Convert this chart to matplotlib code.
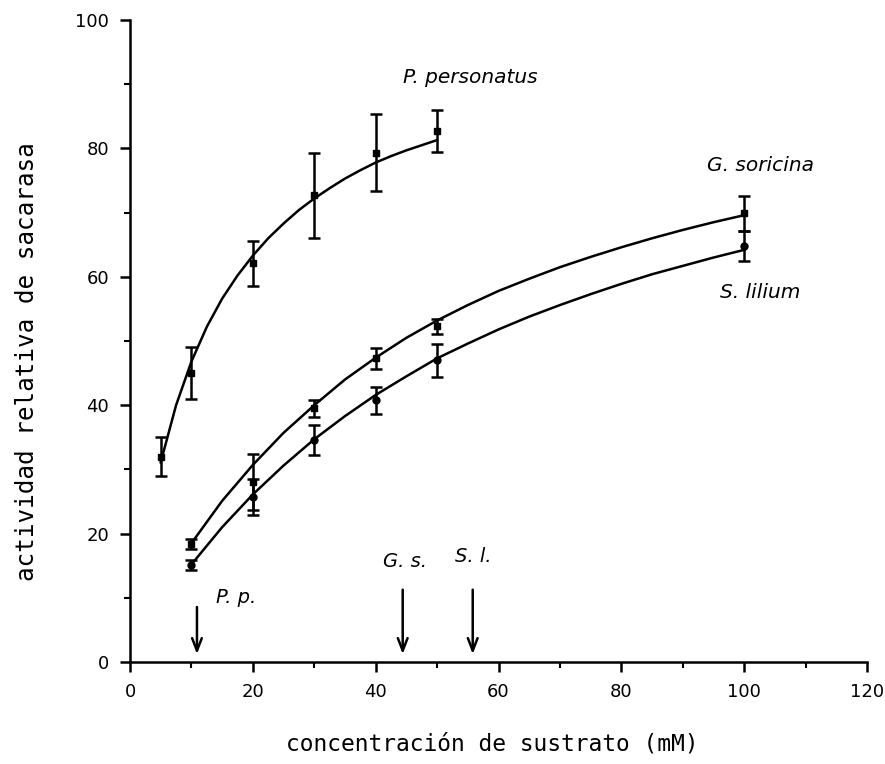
import matplotlib
matplotlib.use("Agg")
import matplotlib.pyplot as plt
from matplotlib.ticker import MultipleLocator

# puntos experimentales (media y error)
pp_x = [5, 10, 20, 30, 40, 50]
pp_y = [32.0, 45.0, 62.1, 72.7, 79.3, 82.7]
pp_err = [3.0, 4.0, 3.5, 6.6, 6.0, 3.3]

gs_x = [10, 20, 30, 40, 50, 100]
gs_y = [18.4, 28.0, 39.5, 47.3, 52.3, 69.9]
gs_err = [0.8, 4.4, 1.3, 1.6, 1.2, 2.7]

sl_x = [10, 20, 30, 40, 50, 100]
sl_y = [15.1, 25.7, 34.6, 40.8, 47.0, 64.8]
sl_err = [0.8, 2.8, 2.3, 2.1, 2.6, 2.4]

# curvas ajustadas
pp_cx = [5, 7.5, 10, 12.5, 15, 17.5, 20, 22.5, 25, 27.5, 30, 32.5, 35, 37.5,
         40, 42.5, 45, 47.5, 50]
pp_cy = [31.1, 40.0, 46.8, 52.2, 56.6, 60.2, 63.3, 66.0, 68.3, 70.4, 72.2,
         73.8, 75.3, 76.6, 77.8, 78.8, 79.7, 80.5, 81.3]

gs_cx = [10, 15, 20, 25, 30, 35, 40, 45, 50, 55, 60, 65, 70, 75, 80, 85, 90,
         95, 100]
gs_cy = [18.5, 25.1, 30.7, 35.7, 40.0, 44.0, 47.4, 50.5, 53.2, 55.6, 57.8,
         59.7, 61.5, 63.1, 64.6, 66.0, 67.3, 68.5, 69.6]

sl_cx = gs_cx
sl_cy = [15.2, 21.0, 26.1, 30.6, 34.7, 38.3, 41.6, 44.5, 47.3, 49.6, 51.8,
         53.8, 55.6, 57.3, 58.9, 60.4, 61.7, 63.0, 64.2]

# Km (flechas)
km_labels = ["P. p.", "G. s.", "S. l."]
km_x = [10.9, 44.4, 55.8]
km_top = [9.0, 11.7, 11.7]

fig = plt.figure(figsize=(8.85, 7.64), dpi=100)
ax = fig.add_axes([0.1469, 0.1335, 0.8328, 0.8403])

for cx, cy in [(pp_cx, pp_cy), (gs_cx, gs_cy), (sl_cx, sl_cy)]:
    ax.plot(cx, cy, color="black", lw=1.8)

for x, y, e, m in [(pp_x, pp_y, pp_err, "s"), (gs_x, gs_y, gs_err, "s"),
                   (sl_x, sl_y, sl_err, "o")]:
    ax.errorbar(x, y, yerr=e, fmt=m, color="black", ms=5, elinewidth=1.8,
                capsize=4, capthick=1.8)

for lab, x, top in zip(km_labels, km_x, km_top):
    ax.annotate("", xy=(x, 0.8), xytext=(x, top),
                arrowprops=dict(arrowstyle="->,head_length=0.9,head_width=0.35",
                                color="black", lw=1.8))

ax.text(14.0, 10.0, "P. p.", style="italic", fontsize=14, va="center")
ax.text(41.2, 15.6, "G. s.", style="italic", fontsize=14, va="center")
ax.text(52.9, 16.4, "S. l.", style="italic", fontsize=14, va="center")

ax.text(44.5, 91.1, "P. personatus", style="italic", fontsize=14.5, va="center")
ax.text(94.0, 77.4, "G. soricina", style="italic", fontsize=14.5, va="center")
ax.text(96.1, 57.5, "S. lilium", style="italic", fontsize=14.5, va="center")

ax.set_xlim(0, 120)
ax.set_ylim(0, 100)
ax.xaxis.set_major_locator(MultipleLocator(20))
ax.xaxis.set_minor_locator(MultipleLocator(10))
ax.yaxis.set_major_locator(MultipleLocator(20))
ax.yaxis.set_minor_locator(MultipleLocator(10))
ax.tick_params(which="major", length=7, width=1.8, labelsize=13, pad=8)
ax.tick_params(which="minor", length=4, width=1.5)

for s in ["top", "right"]:
    ax.spines[s].set_visible(False)
for s in ["left", "bottom"]:
    ax.spines[s].set_linewidth(1.8)

# titulos de ejes
fig.text(492 / 885, 1 - 744 / 764, "concentración de sustrato (mM)",
         family="DejaVu Sans Mono", fontsize=16.5, ha="center", va="center")
fig.text(27 / 885, 1 - 362 / 764, "actividad relativa de sacarasa",
         family="DejaVu Sans Mono", fontsize=17.5, rotation=90,
         ha="center", va="center")

fig.savefig("out.png", dpi=100)
